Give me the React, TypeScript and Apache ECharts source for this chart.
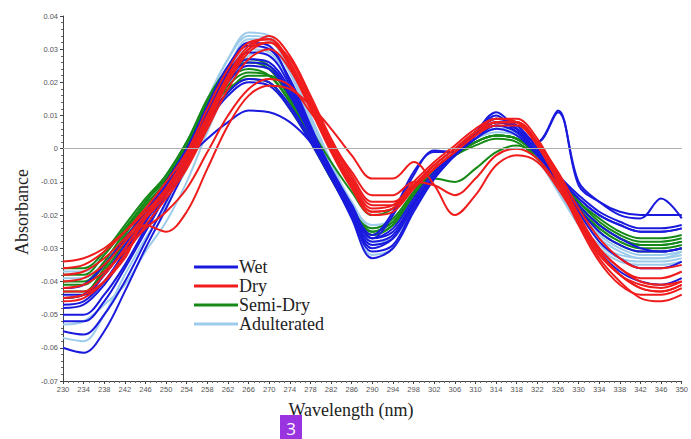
import React, { useEffect, useRef } from "react";
import * as echarts from "echarts";

const wavelengths = [230, 234, 238, 242, 246, 250, 254, 258, 262, 266, 270, 274, 278, 282, 286, 290, 294, 298, 302, 306, 310, 314, 318, 322, 326, 330, 334, 338, 342, 346, 350];

const wetSpectra = [
  [-0.042, -0.041, -0.035, -0.027, -0.019, -0.010, 0.000, 0.012, 0.022, 0.027, 0.026, 0.018, 0.006, -0.006, -0.017, -0.027, -0.024, -0.015, -0.007, -0.001, 0.004, 0.008, 0.006, -0.001, -0.008, -0.014, -0.019, -0.022, -0.024, -0.024, -0.023],
  [-0.047, -0.046, -0.040, -0.031, -0.022, -0.013, -0.003, 0.008, 0.016, 0.020, 0.019, 0.012, 0.002, -0.009, -0.020, -0.029, -0.027, -0.017, -0.008, -0.002, 0.003, 0.006, 0.004, -0.002, -0.009, -0.015, -0.020, -0.023, -0.025, -0.025, -0.024],
  [-0.060, -0.0615, -0.055, -0.043, -0.030, -0.018, -0.005, 0.010, 0.024, 0.032, 0.031, 0.020, 0.006, -0.008, -0.021, -0.033, -0.030, -0.019, -0.009, -0.002, 0.004, 0.009, 0.007, 0.000, -0.009, -0.019, -0.028, -0.033, -0.036, -0.036, -0.034],
  [-0.048, -0.047, -0.041, -0.032, -0.022, -0.011, -0.003, 0.003, 0.008, 0.0115, 0.011, 0.008, 0.002, -0.007, -0.017, -0.027, -0.025, -0.016, -0.008, -0.002, 0.003, 0.007, 0.005, -0.002, -0.010, -0.018, -0.025, -0.029, -0.031, -0.031, -0.030],
  [-0.052, -0.052, -0.046, -0.036, -0.025, -0.014, -0.003, 0.010, 0.020, 0.025, 0.024, 0.016, 0.004, -0.008, -0.019, -0.027, -0.020, -0.008, -0.0005, -0.001, 0.005, 0.011, 0.006, 0.002, 0.0115, -0.011, -0.016, -0.019, -0.020, -0.020, -0.020],
  [-0.050, -0.050, -0.044, -0.035, -0.024, -0.013, -0.002, 0.011, 0.021, 0.026, 0.025, 0.017, 0.005, -0.007, -0.018, -0.026, -0.019, -0.007, -0.001, -0.001, 0.005, 0.010, 0.005, 0.002, 0.011, -0.010, -0.016, -0.020, -0.021, -0.015, -0.021],
  [-0.055, -0.056, -0.050, -0.040, -0.028, -0.016, -0.004, 0.011, 0.023, 0.029, 0.028, 0.019, 0.006, -0.007, -0.020, -0.031, -0.029, -0.018, -0.009, -0.002, 0.004, 0.008, 0.006, -0.001, -0.009, -0.017, -0.023, -0.027, -0.030, -0.031, -0.030],
  [-0.044, -0.044, -0.038, -0.029, -0.020, -0.010, 0.000, 0.013, 0.025, 0.031, 0.030, 0.021, 0.007, -0.007, -0.020, -0.030, -0.027, -0.017, -0.008, -0.001, 0.005, 0.009, 0.007, 0.000, -0.010, -0.021, -0.031, -0.037, -0.040, -0.041, -0.039],
  [-0.045, -0.044, -0.038, -0.030, -0.021, -0.012, -0.002, 0.009, 0.017, 0.021, 0.020, 0.013, 0.003, -0.008, -0.019, -0.028, -0.026, -0.016, -0.008, -0.002, 0.004, 0.007, 0.005, -0.001, -0.008, -0.015, -0.020, -0.023, -0.025, -0.025, -0.024],
];

const drySpectra = [
  [-0.034, -0.033, -0.030, -0.025, -0.019, -0.012, -0.003, 0.009, 0.022, 0.031, 0.033, 0.026, 0.014, 0.001, -0.010, -0.018, -0.017, -0.011, -0.005, 0.000, 0.005, 0.008, 0.008, 0.002, -0.008, -0.020, -0.030, -0.036, -0.039, -0.039, -0.037],
  [-0.040, -0.039, -0.035, -0.028, -0.021, -0.014, -0.005, 0.007, 0.020, 0.029, 0.032, 0.027, 0.015, 0.002, -0.009, -0.017, -0.017, -0.011, -0.005, 0.000, 0.005, 0.009, 0.008, 0.001, -0.010, -0.023, -0.034, -0.041, -0.044, -0.044, -0.042],
  [-0.046, -0.045, -0.040, -0.032, -0.023, -0.015, -0.006, 0.006, 0.018, 0.027, 0.030, 0.024, 0.012, 0.000, -0.011, -0.019, -0.018, -0.012, -0.006, -0.001, 0.004, 0.007, 0.007, 0.001, -0.009, -0.021, -0.031, -0.038, -0.041, -0.042, -0.040],
  [-0.045, -0.044, -0.040, -0.033, -0.023, -0.025, -0.019, -0.006, 0.007, 0.016, 0.019, 0.018, 0.013, 0.006, -0.002, -0.009, -0.009, -0.004, -0.011, -0.020, -0.014, -0.005, -0.002, -0.004, -0.012, -0.022, -0.032, -0.038, -0.042, -0.043, -0.041],
  [-0.042, -0.041, -0.037, -0.031, -0.024, -0.019, -0.012, -0.001, 0.010, 0.018, 0.021, 0.019, 0.011, 0.002, -0.007, -0.014, -0.014, -0.010, -0.011, -0.014, -0.009, -0.002, 0.000, -0.003, -0.011, -0.021, -0.030, -0.036, -0.040, -0.041, -0.040],
  [-0.036, -0.035, -0.031, -0.025, -0.018, -0.010, -0.001, 0.012, 0.024, 0.032, 0.033, 0.025, 0.012, -0.001, -0.012, -0.020, -0.019, -0.012, -0.005, 0.000, 0.005, 0.008, 0.008, 0.002, -0.007, -0.018, -0.027, -0.033, -0.036, -0.036, -0.035],
  [-0.043, -0.043, -0.038, -0.030, -0.021, -0.012, -0.002, 0.010, 0.022, 0.030, 0.032, 0.025, 0.013, 0.000, -0.011, -0.019, -0.018, -0.012, -0.006, -0.001, 0.004, 0.008, 0.008, 0.001, -0.010, -0.022, -0.033, -0.040, -0.045, -0.046, -0.044],
  [-0.038, -0.037, -0.033, -0.027, -0.020, -0.013, -0.004, 0.008, 0.021, 0.030, 0.034, 0.028, 0.016, 0.003, -0.008, -0.016, -0.016, -0.010, -0.004, 0.001, 0.006, 0.009, 0.009, 0.003, -0.008, -0.020, -0.031, -0.038, -0.042, -0.043, -0.041],
];

const semiDrySpectra = [
  [-0.036, -0.036, -0.031, -0.023, -0.015, -0.008, 0.002, 0.015, 0.024, 0.027, 0.025, 0.016, 0.004, -0.008, -0.018, -0.025, -0.022, -0.014, -0.007, -0.002, 0.002, 0.004, 0.003, -0.002, -0.009, -0.016, -0.022, -0.026, -0.028, -0.028, -0.027],
  [-0.040, -0.040, -0.034, -0.025, -0.016, -0.009, 0.001, 0.013, 0.021, 0.024, 0.022, 0.014, 0.003, -0.009, -0.019, -0.026, -0.023, -0.014, -0.007, -0.002, 0.002, 0.004, 0.003, -0.002, -0.010, -0.017, -0.023, -0.027, -0.029, -0.029, -0.028],
  [-0.043, -0.043, -0.036, -0.026, -0.017, -0.010, 0.000, 0.011, 0.018, 0.021, 0.020, 0.012, 0.002, -0.009, -0.019, -0.024, -0.021, -0.013, -0.006, -0.002, 0.001, 0.003, 0.002, -0.003, -0.010, -0.018, -0.025, -0.029, -0.031, -0.031, -0.030],
  [-0.038, -0.038, -0.032, -0.024, -0.016, -0.008, 0.002, 0.014, 0.023, 0.026, 0.024, 0.015, 0.004, -0.008, -0.018, -0.025, -0.022, -0.014, -0.007, -0.002, 0.002, 0.004, 0.003, -0.002, -0.009, -0.016, -0.021, -0.025, -0.027, -0.027, -0.026],
  [-0.045, -0.044, -0.037, -0.028, -0.018, -0.010, -0.001, 0.010, 0.019, 0.023, 0.022, 0.014, 0.003, -0.009, -0.019, -0.026, -0.023, -0.014, -0.007, -0.002, 0.002, 0.004, 0.003, -0.002, -0.010, -0.018, -0.024, -0.028, -0.030, -0.030, -0.029],
  [-0.041, -0.041, -0.035, -0.027, -0.019, -0.012, -0.003, 0.008, 0.017, 0.022, 0.022, 0.016, 0.006, -0.004, -0.013, -0.020, -0.018, -0.011, -0.009, -0.010, -0.006, -0.001, 0.001, -0.002, -0.009, -0.017, -0.023, -0.027, -0.029, -0.029, -0.028],
];

const adulteratedSpectra = [
  [-0.037, -0.037, -0.032, -0.024, -0.016, -0.008, 0.002, 0.015, 0.027, 0.034, 0.033, 0.023, 0.009, -0.005, -0.016, -0.024, -0.022, -0.014, -0.007, -0.002, 0.003, 0.006, 0.005, -0.001, -0.010, -0.019, -0.026, -0.030, -0.032, -0.032, -0.031],
  [-0.042, -0.041, -0.035, -0.026, -0.017, -0.009, 0.001, 0.013, 0.024, 0.030, 0.029, 0.020, 0.007, -0.006, -0.017, -0.025, -0.023, -0.014, -0.007, -0.002, 0.003, 0.006, 0.005, -0.002, -0.011, -0.020, -0.027, -0.031, -0.033, -0.033, -0.032],
  [-0.057, -0.058, -0.050, -0.038, -0.027, -0.017, -0.006, 0.009, 0.024, 0.033, 0.033, 0.023, 0.008, -0.007, -0.021, -0.032, -0.030, -0.019, -0.009, -0.002, 0.003, 0.006, 0.004, -0.003, -0.013, -0.023, -0.030, -0.034, -0.035, -0.035, -0.034],
  [-0.053, -0.052, -0.047, -0.041, -0.031, -0.022, -0.010, 0.005, 0.019, 0.028, 0.030, 0.023, 0.010, -0.004, -0.017, -0.028, -0.027, -0.017, -0.008, -0.002, 0.003, 0.006, 0.005, -0.002, -0.012, -0.022, -0.029, -0.033, -0.034, -0.034, -0.033],
  [-0.039, -0.039, -0.034, -0.025, -0.016, -0.008, 0.002, 0.014, 0.022, 0.026, 0.025, 0.017, 0.005, -0.007, -0.017, -0.023, -0.021, -0.013, -0.006, -0.001, 0.003, 0.005, 0.004, -0.002, -0.009, -0.017, -0.023, -0.027, -0.029, -0.029, -0.028],
  [-0.045, -0.044, -0.037, -0.027, -0.018, -0.009, 0.001, 0.014, 0.027, 0.035, 0.034, 0.024, 0.009, -0.006, -0.019, -0.029, -0.027, -0.017, -0.008, -0.002, 0.003, 0.006, 0.005, -0.002, -0.012, -0.022, -0.029, -0.032, -0.033, -0.033, -0.031],
];

const legendOrder = ["Wet", "Dry", "Semi-Dry", "Adulterated"];

export default function App() {
  const ref = useRef<HTMLDivElement>(null);
  useEffect(() => {
    const chart = echarts.init(ref.current!, null, { renderer: "svg" });
    const groups = [
      { name: "Adulterated", color: "#9dcbeb", data: adulteratedSpectra },
      { name: "Semi-Dry", color: "#168a16", data: semiDrySpectra },
      { name: "Wet", color: "#1a1ade", data: wetSpectra },
      { name: "Dry", color: "#f01c1c", data: drySpectra },
    ];
    const series: any[] = [];
    groups.forEach((g) =>
      g.data.forEach((arr) =>
        series.push({
          type: "line",
          name: g.name,
          data: wavelengths.map((w, i) => [w, arr[i]]),
          showSymbol: false,
          smooth: 0.35,
          silent: true,
          lineStyle: { color: g.color, width: 2 },
          itemStyle: { color: g.color },
        })
      )
    );
    series[0].markLine = {
      silent: true,
      symbol: "none",
      label: { show: false },
      lineStyle: { color: "#b0b0b0", width: 1, type: "solid" },
      data: [{ yAxis: 0 }],
    };
    chart.setOption({
      animation: false,
      backgroundColor: "#ffffff",
      grid: { left: 63, right: 1, top: 16, bottom: 58, containLabel: false },
      xAxis: {
        type: "value",
        min: 230,
        max: 350,
        interval: 4,
        axisLine: { onZero: false, lineStyle: { color: "#444", width: 1 } },
        axisTick: { show: true, length: 3, lineStyle: { color: "#444" } },
        minorTick: { show: true, splitNumber: 4, length: 2, lineStyle: { color: "#666" } },
        splitLine: { show: false },
        axisLabel: { fontSize: 7.5, color: "#555", margin: 4, fontFamily: "Liberation Sans" },
      },
      yAxis: {
        type: "value",
        min: -0.07,
        max: 0.04,
        interval: 0.01,
        axisLine: { show: true, lineStyle: { color: "#444", width: 1 } },
        axisTick: { show: true, length: 3, lineStyle: { color: "#444" } },
        minorTick: { show: true, splitNumber: 5, length: 2, lineStyle: { color: "#666" } },
        splitLine: { show: false },
        axisLabel: {
          fontSize: 7.5,
          color: "#555",
          margin: 5,
          fontFamily: "Liberation Sans",
          formatter: (v: number) => (Math.abs(v) < 1e-9 ? "0" : v.toFixed(2)),
        },
      },
      legend: {
        data: legendOrder,
        orient: "vertical",
        left: 194,
        top: 258,
        icon: "rect",
        itemWidth: 44,
        itemHeight: 3,
        itemGap: 1,
        padding: 0,
        selectedMode: false,
        textStyle: { fontFamily: "Liberation Serif", fontSize: 18, color: "#222", padding: [0, 0, 0, -4] },
      },
      graphic: [
        {
          type: "text",
          x: 22,
          y: 212,
          rotation: Math.PI / 2,
          style: {
            text: "Absorbance",
            font: "18px 'Liberation Serif'",
            fill: "#222",
            textAlign: "center",
            textVerticalAlign: "middle",
          },
        },
        {
          type: "text",
          x: 351,
          y: 410,
          style: {
            text: "Wavelength (nm)",
            font: "18px 'Liberation Serif'",
            fill: "#222",
            textAlign: "center",
            textVerticalAlign: "middle",
          },
        },
        {
          type: "rect",
          shape: { x: 280, y: 415, width: 22, height: 24 },
          style: { fill: "#9a34e0" },
        },
        {
          type: "text",
          x: 291,
          y: 428,
          style: {
            text: "3",
            font: "17px 'Open Sans'",
            fill: "#ffffff",
            textAlign: "center",
            textVerticalAlign: "middle",
          },
        },
      ],
      series,
    });
    return () => chart.dispose();
  }, []);
  return <div ref={ref} style={{ position: "fixed", left: 0, top: 0, width: 691, height: 439 }} />;
}
